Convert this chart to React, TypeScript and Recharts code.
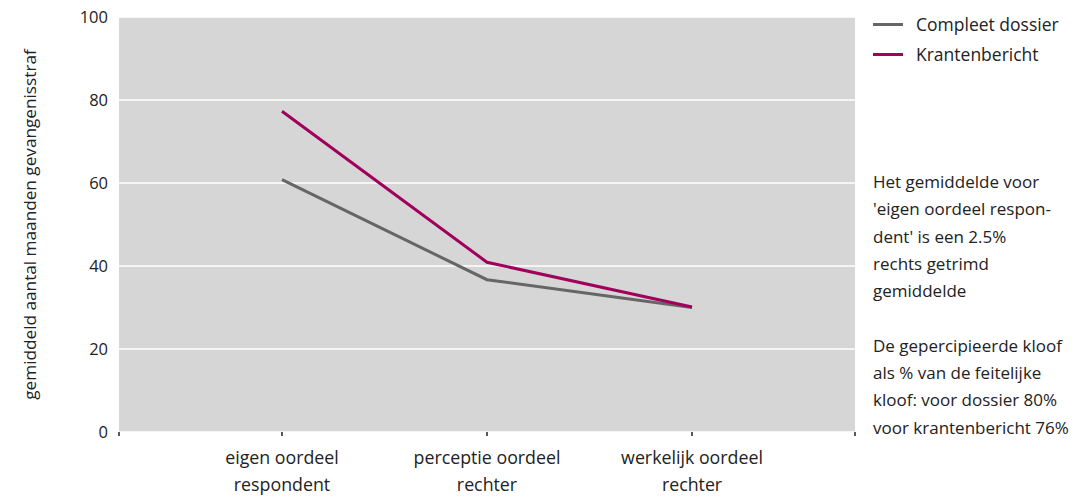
import { LineChart, Line, XAxis, YAxis, CartesianGrid } from 'recharts';

const categories = ['eigen oordeel\nrespondent', 'perceptie oordeel\nrechter', 'werkelijk oordeel\nrechter'];
const compleetDossier = [60.8, 36.7, 30.0];
const krantenbericht = [77.3, 40.9, 30.1];
const yTicks = [0, 20, 40, 60, 80, 100];

const noteLines1 = ['Het gemiddelde voor', "'eigen oordeel respon-", "dent' is een 2.5%", 'rechts getrimd', 'gemiddelde'];
const noteLines2 = ['De gepercipieerde kloof', 'als % van de feitelijke', 'kloof: voor dossier 80%', 'voor krantenbericht 76%'];

// categories sit at 1..n, the plot edge extends a bit past the outer ones
const edgePad = 0.795;
const xDomain = [1 - edgePad, categories.length + edgePad];
const xTicks = [xDomain[0], ...categories.map((_, i) => i + 1), xDomain[1]];

const data = categories.map((name, i) => ({
  x: i + 1,
  name,
  dossier: compleetDossier[i],
  krant: krantenbericht[i],
}));

const FONT = '"Open Sans", Lato, sans-serif';
const GRAY = '#666666';
const MAGENTA = '#a0005c';
const TEXT = '#222222';

const series = [
  { key: 'dossier', label: 'Compleet dossier', color: GRAY },
  { key: 'krant', label: 'Krantenbericht', color: MAGENTA },
];

const CategoryTick = (props: any) => {
  const { x, y, payload } = props;
  const label = categories[payload.value - 1];
  if (!Number.isInteger(payload.value) || !label) return null;
  const lines = label.split('\n');
  return (
    <text x={x} y={y} textAnchor="middle" fill={TEXT} fontSize={17.8} fontFamily={FONT}>
      {lines.map((l, i) => (
        <tspan key={i} x={x} dy={i === 0 ? 26 : 27}>{l}</tspan>
      ))}
    </text>
  );
};

export default function App() {
  return (
    <div style={{ position: 'absolute', left: 0, top: 0, width: 1088, height: 500, background: '#fff' }}>
      <LineChart
        width={1088}
        height={500}
        data={data}
        margin={{ top: 17, right: 233, left: 0, bottom: 0 }}
      >
        <CartesianGrid horizontal vertical={false} stroke="#ffffff" strokeWidth={1.5} fill="#d6d6d6" fillOpacity={1} />
        <XAxis
          dataKey="x"
          type="number"
          domain={xDomain}
          ticks={xTicks}
          interval={0}
          axisLine={false}
          tickLine={{ stroke: TEXT, strokeWidth: 1.5 }}
          tickSize={4}
          height={68}
          tick={<CategoryTick />}
        />
        <YAxis
          domain={[0, 100]}
          ticks={yTicks}
          width={119}
          axisLine={false}
          tickLine={false}
          tickSize={0}
          tickMargin={11}
          tick={{ fill: TEXT, fontSize: 16.5, fontFamily: FONT }}
          label={{
            value: 'gemiddeld aantal maanden gevangenisstraf',
            angle: -90,
            position: 'insideLeft',
            offset: 30,
            style: { textAnchor: 'middle', fill: TEXT, fontSize: 17.2, fontFamily: FONT },
          }}
        />
        {series.map((s) => (
          <Line key={s.key} dataKey={s.key} name={s.label} stroke={s.color} strokeWidth={3} dot={false} activeDot={false} isAnimationActive={false} />
        ))}
      </LineChart>
      <div style={{ position: 'absolute', left: 873, top: 9, fontFamily: FONT, fontSize: 17.5, color: TEXT }}>
        {series.map((s) => (
          <div key={s.key} style={{ display: 'flex', alignItems: 'center', height: 30 }}>
            <span style={{ display: 'inline-block', width: 30, height: 3, background: s.color, marginRight: 13 }} />
            <span>{s.label}</span>
          </div>
        ))}
      </div>
      <div style={{ position: 'absolute', left: 873, top: 168, fontFamily: FONT, fontSize: 17, lineHeight: '27.3px', color: TEXT }}>
        {noteLines1.map((l) => <div key={l}>{l}</div>)}
        <div style={{ height: 27.3 }} />
        {noteLines2.map((l) => <div key={l}>{l}</div>)}
      </div>
    </div>
  );
}
